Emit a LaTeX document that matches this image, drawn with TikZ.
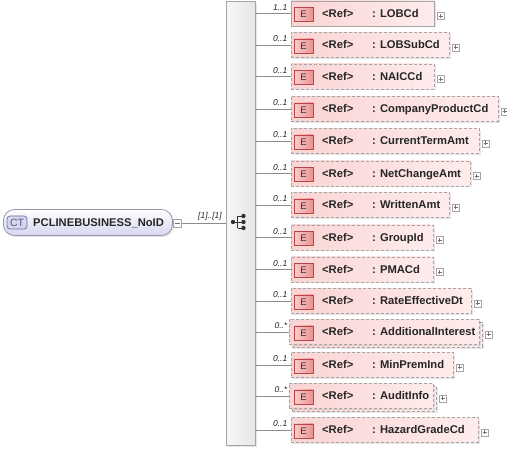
\documentclass[tikz,border=0pt]{standalone}
\usepackage{fontspec}
\setmainfont{Liberation Sans}
\usetikzlibrary{shadows}
\definecolor{elA}{RGB}{250,212,212}
\definecolor{elB}{RGB}{254,236,236}
\definecolor{bordergray}{RGB}{165,165,165}
\definecolor{badgeborder}{RGB}{185,70,70}
\definecolor{badgeA}{RGB}{250,205,205}
\definecolor{badgeB}{RGB}{236,145,145}
\definecolor{ctA}{RGB}{214,214,240}
\definecolor{ctB}{RGB}{255,255,255}
\definecolor{ctborder}{RGB}{150,150,170}
\definecolor{ctbadge}{RGB}{110,110,160}
\definecolor{linegray}{RGB}{140,140,140}
\begin{document}
\begin{tikzpicture}[x=1pt,y=-1pt,
  elbox/.style={draw=bordergray, line width=0.8pt, left color=elA, right color=elB,
    minimum height=25, inner sep=0pt, anchor=west,
    drop shadow={shadow xshift=1.5pt, shadow yshift=-1.5pt, opacity=0.2}},
  dashbox/.style={dash pattern=on 3pt off 2pt},
  ebadge/.style={draw=badgeborder, line width=0.7pt, left color=badgeA, right color=badgeB,
    minimum width=19, minimum height=14, inner sep=0pt, font=\fontsize{9.5}{10}\selectfont, text=black!80},
  reftxt/.style={anchor=base west, inner sep=0pt, font=\bfseries\fontsize{11.2}{13}\selectfont, text=black!85},
  multtxt/.style={anchor=base east, inner sep=0pt, font=\itshape\fontsize{8.5}{9}\selectfont, text=black!85},
  plusbox/.style={draw=bordergray, fill=white, minimum width=7, minimum height=7, inner sep=0pt,
    path picture={\draw[black!55, line width=0.5pt]
      ([xshift=1.5pt]path picture bounding box.west) -- ([xshift=-1.5pt]path picture bounding box.east)
      ([yshift=-1.5pt]path picture bounding box.north) -- ([yshift=1.5pt]path picture bounding box.south);}},
  minusbox/.style={draw=bordergray, fill=white, minimum width=8, minimum height=8, inner sep=0pt,
    path picture={\draw[black!55, line width=0.5pt]
      ([xshift=1.5pt]path picture bounding box.west) -- ([xshift=-1.5pt]path picture bounding box.east);}},
  conn/.style={draw=linegray, line width=0.6pt}
]
\useasboundingbox (0,0) rectangle (507,449);

% sequence bar
\node[draw=bordergray, line width=0.8pt, left color=gray!6, right color=gray!20,
  minimum width=29, minimum height=444, inner sep=0pt, anchor=north west,
  drop shadow={shadow xshift=1.5pt, shadow yshift=-1.5pt, opacity=0.2}] (seq) at (226,1) {};

% sequence icon
\draw[black!80, line width=0.8pt] (233,222) -- (237.5,222) (237.5,216) -- (237.5,228)
  (237.5,216) -- (243,216) (237.5,222) -- (243,222) (237.5,228) -- (243,228);
\fill[black!80] (233,222) circle (2.2) (243.5,216) circle (2.2) (243.5,222) circle (2.2) (243.5,228) circle (2.2);

% complex type node
\node[draw=ctborder, line width=0.8pt, rounded corners=11pt, top color=ctB, bottom color=ctA,
  minimum width=169, minimum height=26, inner sep=0pt, anchor=west,
  drop shadow={shadow xshift=1.5pt, shadow yshift=-1.5pt, opacity=0.2}] (ct) at (3,222.5) {};
\node[draw=ctbadge, line width=0.7pt, rounded corners=3pt, fill=ctA, minimum width=20, minimum height=13,
  inner sep=0pt, text=ctbadge!80!black, font=\fontsize{10.5}{11}\selectfont] (ctb) at (17,222.5) {CT};
\node[anchor=base west, inner sep=0pt, font=\bfseries\fontsize{11.2}{13}\selectfont, text=black!85]
  (ctname) at (33,226.5) {PCLINEBUSINESS\_NoID};
\node[minusbox] (ctm) at (177.5,223) {};
\draw[conn] (ctm.east) -- (ctm.east -| seq.west);
\node[multtxt] (ctmult) at (222,218.5) {[1]..[1]};

% elements
\foreach \i/\cy/\r/\nm/\mult/\multi in {
  1/13.5/434/LOBCd/1..1/0,
  2/45/449/LOBSubCd/0..1/0,
  3/76.5/434/NAICCd/0..1/0,
  4/109/498/CompanyProductCd/0..1/0,
  5/141/479/CurrentTermAmt/0..1/0,
  6/173.5/470/NetChangeAmt/0..1/0,
  7/205/449/WrittenAmt/0..1/0,
  8/237.5/433/GroupId/0..1/0,
  9/269.5/433/PMACd/0..1/0,
  10/301/471/RateEffectiveDt/0..1/0,
  11/332/482/AdditionalInterest/0..*/1,
  12/365/453/MinPremInd/0..1/0,
  13/396/436/AuditInfo/0..*/1,
  14/430/478/HazardGradeCd/0..1/0}{
  \ifnum\multi=1
    \node[elbox, dashbox, minimum width={\r-292}] (s\i) at (292,\cy+3) {};
    \node[elbox, dashbox, minimum width={\r-292}] (e\i) at (289,\cy) {};
  \else
    \ifnum\i=1
      \node[elbox, minimum width={\r-291}] (e\i) at (291,\cy) {};
    \else
      \node[elbox, dashbox, minimum width={\r-291}] (e\i) at (291,\cy) {};
    \fi
  \fi
  \node[ebadge] (b\i) at (303.5,\cy+1) {E};
  \node[reftxt] (r\i) at (322,\cy+4) {<Ref>};
  \node[reftxt] (n\i) at (372,\cy+4) {: \nm};
  \node[plusbox] (p\i) at (\r+6.5,\cy+2.5) {};
  \draw[conn] (e\i.west -| seq.east) -- (e\i.west);
  \node[multtxt] (m\i) at (287.5,\cy-3) {\mult};
}
\end{tikzpicture}
\end{document}
